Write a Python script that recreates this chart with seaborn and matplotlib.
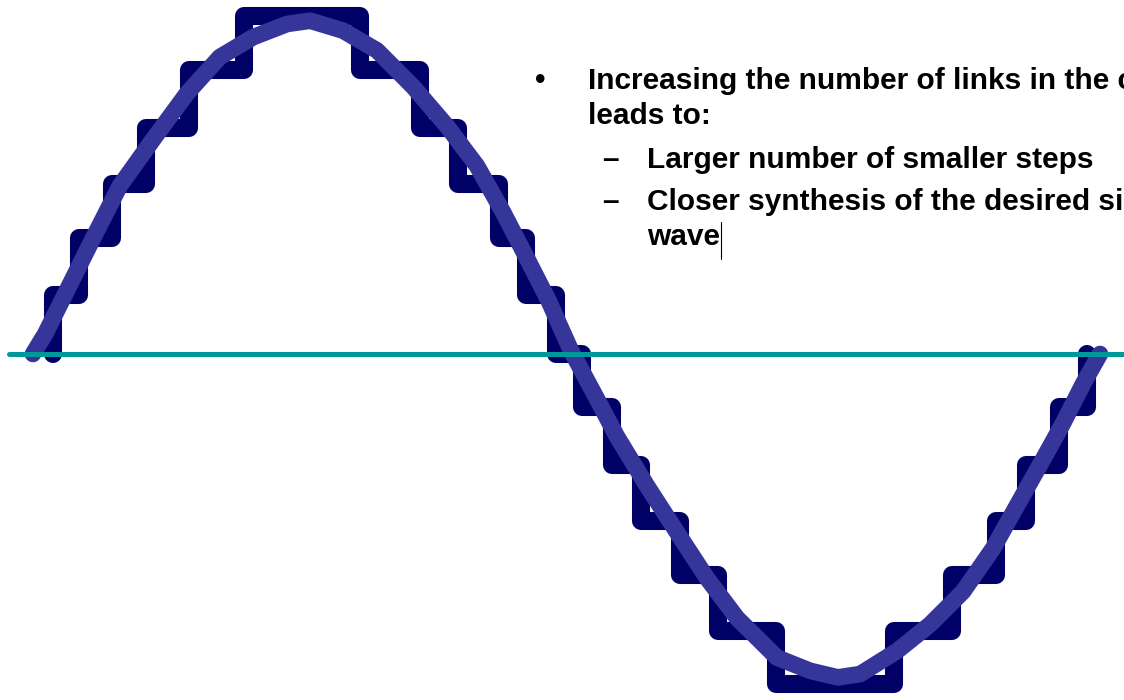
import numpy as np
import pandas as pd
import matplotlib
matplotlib.use("Agg")
import matplotlib.pyplot as plt
from matplotlib.lines import Line2D
import seaborn as sns

# Multilevel staircase: switching angles (degrees) and the level held after each switch
stair_start_angle = 6
switch_angles = [6, 15, 26, 37.5, 52, 70.5, 110, 130, 143, 157, 166, 176,
                 185, 195, 205, 218, 231, 250.5, 290.5, 310, 325, 335, 346, 355.5]
step_levels = [0.18, 0.35, 0.515, 0.685, 0.86, 1.025, 0.86, 0.685, 0.515, 0.35, 0.18, 0.0,
               -0.16, -0.335, -0.505, -0.67, -0.84, -1.0, -0.84, -0.67, -0.505, -0.335, -0.16, 0.0]

# Desired sine wave, traced as a freeform curve (angle in degrees, value in p.u.)
sine_angles = [-0.7, 3.4, 10.1, 19.3, 28.7, 39.9, 51.4, 62.5, 73.7, 85.2, 93.0,
               104.1, 115.6, 127.8, 139.3, 149.4, 158.2, 166.3, 173.7, 181.2,
               189.0, 196.7, 206.9, 217.0, 227.2, 237.3, 250.8, 262.0, 271.4,
               278.9, 291.4, 302.5, 313.7, 323.8, 331.9, 340.7, 347.5, 354.3, 360.0]
sine_values = [0.0, 0.06, 0.18, 0.345, 0.51, 0.65, 0.79, 0.90, 0.96, 1.0, 1.01,
               0.98, 0.92, 0.81, 0.69, 0.57, 0.43, 0.29, 0.16, 0.01,
               -0.12, -0.25, -0.40, -0.54, -0.68, -0.80, -0.92, -0.96, -0.98,
               -0.97, -0.90, -0.82, -0.72, -0.59, -0.46, -0.32, -0.21, -0.09, 0.0]

# Slide text
bullet_line1 = "Increasing the number of links in the chain"
bullet_line2 = "leads to:"
sub_item1 = "Larger number of smaller steps"
sub_item2_line1 = "Closer synthesis of the desired sine"
sub_item2_line2 = "wave"

sns.set_theme(style="white")
plt.rcParams["font.family"] = ["Liberation Sans", "DejaVu Sans"]

W, H = 1124, 700
fig = plt.figure(figsize=(W / 100, H / 100), dpi=100)
fig.patch.set_facecolor("white")
ax = fig.add_axes([0, 0, 1, 1])
ax.set_facecolor("white")

stair = pd.DataFrame({
    "angle": [stair_start_angle] + switch_angles,
    "level": [0.0] + step_levels,
})
sine = pd.DataFrame({"angle": sine_angles, "value": sine_values})

sns.lineplot(data=stair, x="angle", y="level", ax=ax, color="#000066",
             linewidth=13, drawstyle="steps-post", estimator=None, sort=False,
             solid_joinstyle="round", solid_capstyle="round", zorder=1)
sns.lineplot(data=sine, x="angle", y="value", ax=ax, color="#35359A",
             linewidth=12, estimator=None, sort=False,
             solid_joinstyle="round", solid_capstyle="round", zorder=2)
ax.axhline(0, xmin=9 / W, xmax=1, color="#009999", linewidth=3.6, zorder=3)

# map degrees / per-unit onto the canvas
px_per_deg = 2.9583
x0_px, y0_px, px_per_unit = 35, 354, 330
ax.set_xlim(-x0_px / px_per_deg, (W - x0_px) / px_per_deg)
ax.set_ylim((y0_px - H) / px_per_unit, y0_px / px_per_unit)
ax.set_axis_off()

txt = dict(fontweight="bold", fontsize=21.5, color="black", va="baseline",
           family=["Liberation Sans", "DejaVu Sans"])
fig.text(540 / W, 1 - 89 / H, "\u2022", ha="center", **txt)
fig.text(588 / W, 1 - 89 / H, bullet_line1, **txt)
fig.text(588 / W, 1 - 124 / H, bullet_line2, **txt)
fig.text(602 / W, 1 - 168 / H, "\u2013", **txt)
fig.text(647 / W, 1 - 168 / H, sub_item1, **txt)
fig.text(602 / W, 1 - 210 / H, "\u2013", **txt)
fig.text(647 / W, 1 - 210 / H, sub_item2_line1, **txt)
last = fig.text(647 / W, 1 - 245 / H, sub_item2_line2, **txt)

# thin text caret just after the last word
fig.canvas.draw()
bb = last.get_window_extent()
caret_x = bb.x1 + 1
fig.add_artist(Line2D([caret_x, caret_x], [bb.y0 - 8, bb.y1 + 1], transform=None,
                      color="black", linewidth=0.8))

fig.savefig("out.png", dpi=100, facecolor="white")
